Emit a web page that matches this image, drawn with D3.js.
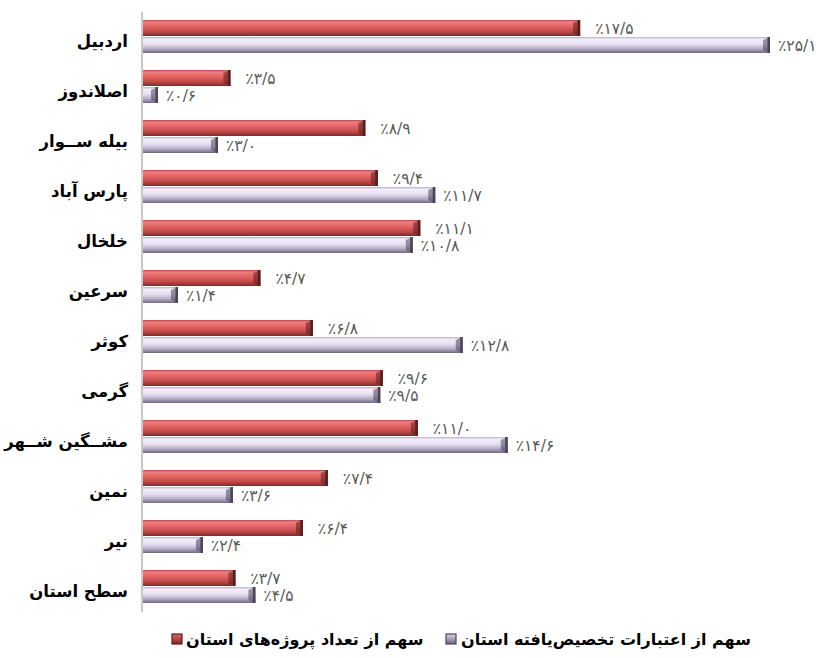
<!DOCTYPE html>
<html>
<head>
<meta charset="utf-8">
<script src="https://cdn.jsdelivr.net/npm/d3@7/dist/d3.min.js"></script>
<style>
  html, body { margin: 0; padding: 0; background: #fff; }
  svg { display: block; }
</style>
</head>
<body>
<svg id="chart" width="819" height="658"></svg>
<script>
// ---- data ----
const categories = ["اردبیل", "اصلاندوز", "بیله ســوار", "پارس آباد", "خلخال", "سرعین", "کوثر", "گرمی", "مشــگین شــهر", "نمین", "نیر", "سطح استان"];
const projectShare = [17.5, 3.5, 8.9, 9.4, 11.1, 4.7, 6.8, 9.6, 11.0, 7.4, 6.4, 3.7];
const creditShare  = [25.1, 0.6, 3.0, 11.7, 10.8, 1.4, 12.8, 9.5, 14.6, 3.6, 2.4, 4.5];
const seriesNames = ["سهم از تعداد پروژه‌های استان", "سهم از اعتبارات تخصیص‌یافته استان"];

const svg = d3.select("#chart");
const defs = svg.append("defs");

function vgrad(id, stops) {
  const g = defs.append("linearGradient").attr("id", id)
    .attr("x1", 0).attr("y1", 0).attr("x2", 0).attr("y2", 1);
  stops.forEach(s => g.append("stop").attr("offset", s[0]).attr("stop-color", s[1]));
}
vgrad("gRed", [[0, "#b54545"], [0.12, "#ee8080"], [0.4, "#e26464"], [0.72, "#c44a4a"], [1, "#7c2b2b"]]);
vgrad("gPur", [[0, "#b9b1c9"], [0.15, "#f3effa"], [0.45, "#e6dff1"], [0.75, "#b3abc2"], [1, "#6e6780"]]);
vgrad("gRedM", [[0, "#d86a6a"], [0.5, "#b84444"], [1, "#7a2828"]]);
vgrad("gPurM", [[0, "#d8d2e2"], [0.5, "#a8a0b8"], [1, "#6a6378"]]);

const x = d3.scaleLinear().domain([0, 25.1]).range([143, 770]);
const y = d3.scaleBand().domain(categories).range([12, 612]);

const toFa = s => s.replace(/[0-9]/g, d => "۰۱۲۳۴۵۶۷۸۹"[+d]);
const fmt = v => "٪" + toFa(v.toFixed(1).replace(".", "/"));

const barH = 16;
const series = [
  { vals: projectShare, off: 8, fill: "url(#gRed)", cap: "#5c1c1c", labelDx: 15 },
  { vals: creditShare, off: 25, fill: "url(#gPur)", cap: "#4a4458", labelDx: 8 }
];

series.forEach(s => {
  const g = svg.append("g");
  const rows = g.selectAll("g").data(categories.map((c, i) => ({ c, v: s.vals[i] }))).join("g");
  rows.append("rect")
    .attr("x", x(0)).attr("y", d => y(d.c) + s.off)
    .attr("width", d => x(d.v) - x(0)).attr("height", barH)
    .attr("fill", s.fill);
  // bevel at right end
  rows.append("path")
    .attr("d", d => {
      const xe = x(d.v), t = y(d.c) + s.off, b = t + barH, w = Math.min(7, x(d.v) - x(0));
      return `M${xe - w},${t + 3}L${xe},${t}L${xe},${b}L${xe - w},${b - 3}Z`;
    })
    .attr("fill", s.cap).attr("opacity", 0.55);
  rows.append("rect")
    .attr("x", d => x(d.v) - 2.5).attr("y", d => y(d.c) + s.off)
    .attr("width", 2.5).attr("height", barH)
    .attr("fill", s.cap);
  rows.append("text")
    .attr("x", d => x(d.v) + s.labelDx)
    .attr("y", d => y(d.c) + s.off + barH / 2 + 5.5)
    .attr("font-family", "DejaVu Sans")
    .attr("font-size", 15.5)
    .attr("fill", "#595959")
    .text(d => fmt(d.v));
});

// axis line
svg.append("line").attr("x1", x(0) - 1).attr("x2", x(0) - 1).attr("y1", 12).attr("y2", 612)
  .attr("stroke", "#c8c8c8").attr("stroke-width", 2);

// category labels
svg.append("g").selectAll("text").data(categories).join("text")
  .attr("x", 128)
  .attr("y", d => y(d) + 35)
  .attr("text-anchor", "end")
  .attr("font-family", "DejaVu Sans")
  .attr("font-weight", "bold")
  .attr("font-size", 16.5)
  .attr("fill", "#000")
  .text(d => d);

// legend
const legend = [
  { name: seriesNames[0], fill: "url(#gRedM)", cap: "#5c1c1c", mx: 172, tx: 186, fs: 16 },
  { name: seriesNames[1], fill: "url(#gPurM)", cap: "#4a4458", mx: 446, tx: 461, fs: 16 }
];
const lg = svg.append("g").selectAll("g").data(legend).join("g");
lg.append("rect").attr("x", d => d.mx).attr("y", 634).attr("width", 10).attr("height", 10).attr("fill", d => d.fill);
lg.append("rect").attr("x", d => d.mx).attr("y", 634).attr("width", 10).attr("height", 10)
  .attr("fill", "none").attr("stroke", d => d.cap).attr("stroke-width", 1.2);
lg.append("text")
  .attr("x", d => d.tx).attr("y", 645)
  .attr("font-family", "DejaVu Sans")
  .attr("font-weight", "bold")
  .attr("font-size", d => d.fs)
  .attr("fill", "#000")
  .text(d => d.name);
</script>
</body>
</html>
